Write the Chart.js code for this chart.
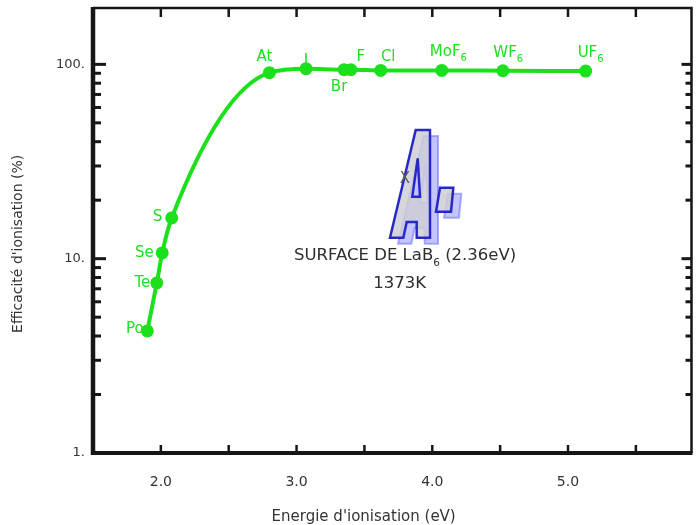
<!DOCTYPE html>
<html><head><meta charset="utf-8">
<script src="https://cdn.jsdelivr.net/npm/chart.js@4.4.1/dist/chart.umd.min.js"></script>
<style>html,body{margin:0;padding:0;background:#fff;}canvas{display:block;}</style>
</head><body>
<canvas id="c" width="698" height="525"></canvas>
<script>
// ---- data ----
const species = ['Po','Te','Se','S','At','I','Br','F','Cl','MoF6','WF6','UF6'];
const energyEV = [1.90, 1.97, 2.01, 2.08, 2.80, 3.07, 3.35, 3.40, 3.62, 4.07, 4.52, 5.13];
const efficiencyPct = [4.25, 7.5, 10.7, 16.2, 90.6, 95.0, 93.9, 93.9, 93.1, 93.1, 92.7, 92.3];
const xTickValues = [2, 3, 4, 5];
const xTickLabels = ['2.0', '3.0', '4.0', '5.0'];
const xTickMarks = [2.0, 2.5, 3.0, 3.5, 4.0, 4.5, 5.0, 5.5];
const yTickValues = [1, 10, 100];
const yTickLabels = ['1.', '10.', '100.'];
const yTickMarks = [2,3,4,5,6,7,8,9,10,20,30,40,50,60,70,80,90,100];
const noteLine1 = ['SURFACE DE LaB', '6', ' (2.36eV)'];
const noteLine2 = '1373K';
const xTitle = "Energie d'ionisation (eV)";
const yTitle = "Efficacité d'ionisation (%)";

// ---- styles ----
const GREEN = 'rgb(28,224,28)';
const FONT = 'DejaVu Sans';
const TEXT = '#333';
const labelPlace = {
  Po:{align:'right',dx:-3.5,dy:-1.5}, Te:{align:'right',dx:-6.5,dy:0}, Se:{align:'right',dx:-8.5,dy:0},
  S:{align:'right',dx:-9.5,dy:-1}, At:{align:'center',dx:-5,dy:-16}, I:{align:'center',dx:0,dy:-8},
  Br:{align:'center',dx:-5,dy:17}, F:{align:'center',dx:10,dy:-13}, Cl:{align:'center',dx:7.5,dy:-13.5},
  MoF6:{align:'left',dx:-12,dy:-18.5}, WF6:{align:'left',dx:-9.5,dy:-18}, UF6:{align:'left',dx:-8,dy:-18.5}
};

function drawSubText(ctx, parts, x, y, align, size, subSize, color) {
  ctx.save();
  ctx.fillStyle = color;
  ctx.textBaseline = 'middle';
  ctx.textAlign = 'left';
  ctx.font = size + 'px "' + FONT + '"';
  const w0 = ctx.measureText(parts[0]).width;
  const w2 = parts[2] ? ctx.measureText(parts[2]).width : 0;
  ctx.font = subSize + 'px "' + FONT + '"';
  const w1 = parts[1] ? ctx.measureText(parts[1]).width : 0;
  const total = w0 + w1 + w2;
  let x0 = x;
  if (align === 'center') x0 = x - total / 2;
  else if (align === 'right') x0 = x - total;
  ctx.font = size + 'px "' + FONT + '"';
  ctx.fillText(parts[0], x0, y);
  if (parts[1]) {
    ctx.font = subSize + 'px "' + FONT + '"';
    ctx.fillText(parts[1], x0 + w0, y + size * 0.42);
  }
  if (parts[2]) {
    ctx.font = size + 'px "' + FONT + '"';
    ctx.fillText(parts[2], x0 + w0 + w1, y);
  }
  ctx.restore();
}

function drawLogo(ctx) {
  const outer = [[390,237.7],[415.7,130],[430,130],[430,237.7],[416.7,237.7],[416.7,222],[406.7,222],[403.3,237.7]];
  const hole = [[417.7,158.3],[420,196.7],[412.3,196.7]];
  const dot = [[440,187.7],[453.3,187.7],[451,211.7],[436,211.7]];
  function path(pts, ox, oy) {
    ctx.moveTo(pts[0][0] + ox, pts[0][1] + oy);
    for (let i = 1; i < pts.length; i++) ctx.lineTo(pts[i][0] + ox, pts[i][1] + oy);
    ctx.closePath();
  }
  ctx.save();
  ctx.lineJoin = 'miter';
  ctx.beginPath(); path(outer, 8, 6); path(hole, 8, 6);
  ctx.fillStyle = 'rgba(125,125,255,0.45)'; ctx.fill('evenodd');
  ctx.strokeStyle = 'rgba(110,110,255,0.55)'; ctx.lineWidth = 2; ctx.stroke();
  ctx.beginPath(); path(dot, 8, 6); ctx.fill(); ctx.stroke();
  ctx.beginPath(); path(outer, 0, 0); path(hole, 0, 0);
  ctx.fillStyle = 'rgba(206,206,214,0.85)'; ctx.fill('evenodd');
  ctx.strokeStyle = '#2828c8'; ctx.lineWidth = 2.5; ctx.stroke();
  ctx.beginPath(); path(dot, 0, 0); ctx.fill(); ctx.stroke();
  ctx.fillStyle = '#5a5a5a'; ctx.font = '15px "' + FONT + '"';
  ctx.textAlign = 'center'; ctx.textBaseline = 'middle';
  ctx.fillText('X', 405, 179);
  ctx.restore();
}

const decorPlugin = {
  id: 'decor',
  afterDatasetsDraw(chart) {
    const ctx = chart.ctx;
    const meta = chart.getDatasetMeta(0);
    meta.data.forEach((pt, i) => {
      const name = species[i];
      const m = name.match(/^(.*?)(\d+)$/);
      const parts = m ? [m[1], m[2], ''] : [name, '', ''];
      const p = labelPlace[name];
      drawSubText(ctx, parts, pt.x + p.dx, pt.y + p.dy, p.align, 15, 10, GREEN);
    });
  },
  afterDraw(chart) {
    const ctx = chart.ctx;
    const {left, right, top, bottom} = chart.chartArea;
    const xs = chart.scales.x, ys = chart.scales.y;
    ctx.save();
    ctx.strokeStyle = '#161616';
    ctx.lineCap = 'butt';
    ctx.lineWidth = 2.5;
    ctx.beginPath(); ctx.moveTo(left, top); ctx.lineTo(right, top); ctx.lineTo(right, bottom); ctx.stroke();
    ctx.lineWidth = 4.5;
    ctx.beginPath(); ctx.moveTo(left, top - 1); ctx.lineTo(left, bottom + 2); ctx.stroke();
    ctx.lineWidth = 4;
    ctx.beginPath(); ctx.moveTo(left - 2, bottom); ctx.lineTo(right + 1, bottom); ctx.stroke();
    ctx.lineWidth = 2.5;
    xTickMarks.forEach(v => {
      const x = xs.getPixelForValue(v);
      ctx.beginPath(); ctx.moveTo(x, bottom); ctx.lineTo(x, bottom - 8); ctx.stroke();
      ctx.beginPath(); ctx.moveTo(x, top); ctx.lineTo(x, top + 9); ctx.stroke();
    });
    ctx.lineWidth = 3;
    yTickMarks.forEach(v => {
      const y = ys.getPixelForValue(v);
      const major = Number.isInteger(Math.log10(v));
      ctx.beginPath(); ctx.moveTo(left, y); ctx.lineTo(left + (major ? 13 : 8), y); ctx.stroke();
      ctx.beginPath(); ctx.moveTo(right, y); ctx.lineTo(right - (major ? 10 : 6), y); ctx.stroke();
    });
    ctx.restore();
    drawSubText(ctx, noteLine1, xs.getPixelForValue(3.80), ys.getPixelForValue(10.3), 'center', 16.5, 10.5, '#2e2e2e');
    drawSubText(ctx, [noteLine2, '', ''], xs.getPixelForValue(3.76), ys.getPixelForValue(7.4), 'center', 16.5, 10.5, '#2e2e2e');
    drawLogo(ctx);
  }
};

const points = energyEV.map((e, i) => ({x: e, y: efficiencyPct[i]}));

new Chart(document.getElementById('c'), {
  type: 'line',
  data: {
    datasets: [{
      label: 'Efficacité',
      data: points,
      borderColor: GREEN,
      backgroundColor: GREEN,
      borderWidth: 4,
      pointRadius: 6.5,
      pointBorderWidth: 0,
      pointBackgroundColor: GREEN,
      cubicInterpolationMode: 'monotone',
      clip: false
    }]
  },
  options: {
    responsive: false,
    animation: false,
    devicePixelRatio: 1,
    layout: {padding: {top: 8, right: 4, left: 0, bottom: 0}},
    plugins: {legend: {display: false}, tooltip: {enabled: false}},
    scales: {
      x: {
        type: 'linear', min: 1.5, max: 5.91,
        grid: {display: false, drawTicks: false}, border: {display: false},
        afterBuildTicks: s => { s.ticks = xTickValues.map(v => ({value: v})); },
        afterFit: s => { s.height = 72; s.paddingLeft = 0; s.paddingRight = 0; },
        ticks: {
          autoSkip: false, maxRotation: 0, padding: 21, color: TEXT,
          font: {family: FONT, size: 14},
          callback: v => { const i = xTickValues.indexOf(v); return i >= 0 ? xTickLabels[i] : null; }
        },
        title: {
          display: true, text: xTitle + '            ', color: TEXT,
          font: {family: FONT, size: 15, lineHeight: 1}, padding: {top: 20, bottom: 0}
        }
      },
      y: {
        type: 'logarithmic', min: 1, max: 195,
        grid: {display: false, drawTicks: false}, border: {display: false},
        afterBuildTicks: s => { s.ticks = yTickValues.map(v => ({value: v})); },
        afterFit: s => { s.width = 93; s.paddingTop = 0; s.paddingBottom = 0; },
        ticks: {
          autoSkip: false, padding: 8, color: TEXT,
          font: {family: FONT, size: 13},
          callback: v => { const i = yTickValues.indexOf(v); return i >= 0 ? yTickLabels[i] : null; }
        },
        title: {
          display: true, text: yTitle + '      ', color: TEXT,
          font: {family: FONT, size: 14}, padding: {top: 9.6, bottom: 0}
        }
      }
    }
  },
  plugins: [decorPlugin]
});
</script>
</body></html>
